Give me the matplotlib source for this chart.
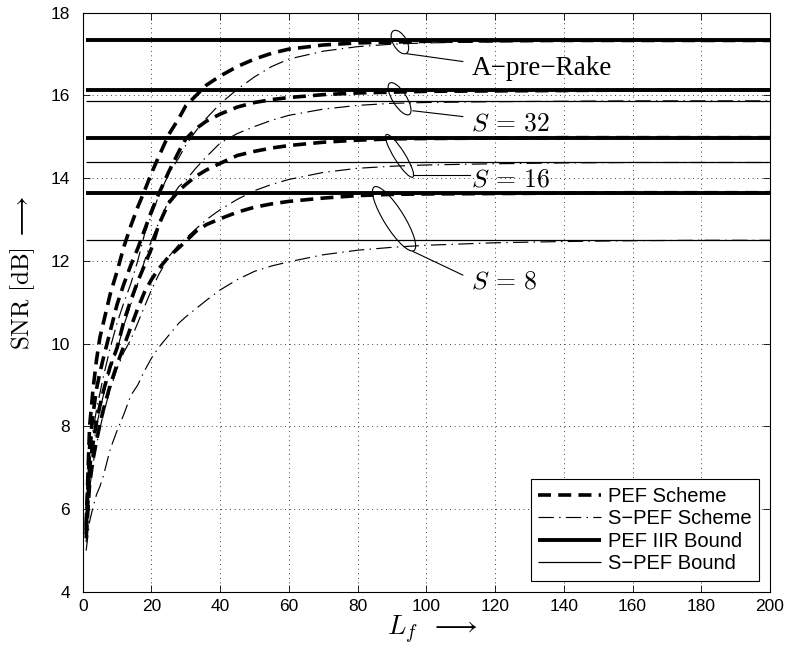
import matplotlib
matplotlib.use('Agg')
import matplotlib.pyplot as plt
from matplotlib.patches import Ellipse
from matplotlib.transforms import ScaledTranslation

# ---------------- data ----------------
Lf = [1, 2, 3, 4, 5, 6, 8, 10, 12, 14, 16, 18, 20, 22, 25, 28, 30, 33, 36, 40,
      45, 50, 55, 60, 70, 80, 90, 100, 120, 140, 160, 180, 200]

# PEF scheme (thick dashed)
pef_apre = [5.6, 8.0, 8.9, 9.6, 10.15, 10.5, 11.2, 11.75, 12.35, 12.85, 13.3, 13.7, 14.12, 14.5,
            15.05, 15.45, 15.75, 16.0, 16.25, 16.47, 16.7, 16.88, 17.02, 17.12, 17.22, 17.27,
            17.29, 17.31, 17.32, 17.33, 17.33, 17.33, 17.33]
pef_s32 = [5.5, 7.5, 8.3, 8.9, 9.3, 9.65, 10.3, 10.95, 11.45, 11.9, 12.3, 12.75, 13.2, 13.6,
           14.15, 14.65, 14.95, 15.2, 15.38, 15.55, 15.72, 15.83, 15.9, 15.95, 16.02, 16.06,
           16.08, 16.1, 16.11, 16.12, 16.13, 16.13, 16.13]
pef_s16 = [5.4, 7.0, 7.6, 8.1, 8.5, 8.85, 9.45, 9.9, 10.55, 11.05, 11.5, 11.9, 12.3, 12.85,
           13.4, 13.7, 13.85, 14.05, 14.2, 14.36, 14.55, 14.65, 14.73, 14.79, 14.87, 14.92,
           14.95, 14.96, 14.97, 14.98, 14.98, 14.98, 14.98]
pef_s8 = [5.3, 6.6, 7.2, 7.65, 8.05, 8.4, 9.0, 9.5, 9.95, 10.4, 10.85, 11.25, 11.55, 11.8,
          12.1, 12.32, 12.48, 12.72, 12.88, 13.02, 13.18, 13.3, 13.38, 13.44, 13.52, 13.58,
          13.61, 13.62, 13.63, 13.64, 13.65, 13.65, 13.65]

# S-PEF scheme (thin dash-dot)
spef_apre = [5.4, 7.2, 7.9, 8.4, 8.8, 9.2, 9.9, 10.5, 11.0, 11.45, 12.0, 12.65, 13.1, 13.55,
             14.1, 14.5, 14.8, 15.15, 15.45, 15.8, 16.15, 16.45, 16.7, 16.88, 17.07, 17.18,
             17.24, 17.27, 17.3, 17.31, 17.32, 17.32, 17.32]
spef_s32 = [5.3, 6.9, 7.5, 8.0, 8.4, 8.75, 9.4, 9.85, 10.45, 10.95, 11.45, 12.0, 12.5, 12.9,
            13.45, 13.8, 13.95, 14.25, 14.52, 14.85, 15.08, 15.25, 15.4, 15.52, 15.67, 15.76,
            15.81, 15.83, 15.85, 15.86, 15.87, 15.87, 15.87]
spef_s16 = [5.2, 6.5, 7.1, 7.55, 7.95, 8.3, 8.9, 9.4, 9.8, 10.1, 10.5, 10.9, 11.3, 11.65,
            12.1, 12.4, 12.55, 12.78, 13.0, 13.24, 13.49, 13.7, 13.85, 13.97, 14.14, 14.24,
            14.29, 14.32, 14.35, 14.37, 14.38, 14.38, 14.38]
spef_s8 = [5.0, 5.7, 6.05, 6.35, 6.55, 6.8, 7.45, 7.9, 8.3, 8.75, 9.0, 9.35, 9.65, 9.9,
           10.2, 10.5, 10.65, 10.85, 11.05, 11.3, 11.55, 11.75, 11.88, 11.98, 12.15, 12.26,
           12.33, 12.38, 12.44, 12.47, 12.49, 12.5, 12.5]

# bounds (A-pre-Rake, S=32, S=16, S=8)
pef_iir_bound = [17.33, 16.13, 14.98, 13.65]
spef_bound = [17.33, 15.87, 14.38, 12.51]

legend_labels = ['PEF Scheme', 'S\u2212PEF Scheme', 'PEF IIR Bound', 'S\u2212PEF Bound']
xticks = [0, 20, 40, 60, 80, 100, 120, 140, 160, 180, 200]
yticks = [4, 6, 8, 10, 12, 14, 16, 18]

# ---------------- figure ----------------
plt.rcParams['font.family'] = ['Liberation Sans', 'DejaVu Sans']
plt.rcParams['mathtext.fontset'] = 'cm'

fig = plt.figure(figsize=(7.9, 6.55), dpi=100)
ax = fig.add_axes([0.1047, 0.0962, 0.8700, 0.8844])

pef_curves = [pef_apre, pef_s32, pef_s16, pef_s8]
spef_curves = [spef_apre, spef_s32, spef_s16, spef_s8]

for i, y in enumerate(pef_curves):
    ax.plot(Lf, y, color='k', lw=2.6, dashes=(3.6, 2.0), dash_capstyle='butt',
            label=legend_labels[0] if i == 0 else None, zorder=3)
for i, y in enumerate(spef_curves):
    ax.plot(Lf, y, color='k', lw=0.85, dashes=(13, 4.5, 1.2, 4.5),
            label=legend_labels[1] if i == 0 else None, zorder=3)
for i, b in enumerate(pef_iir_bound):
    ax.plot([Lf[0], Lf[-1]], [b, b], color='k', lw=2.8, solid_capstyle='butt',
            label=legend_labels[2] if i == 0 else None, zorder=4)
for i, b in enumerate(spef_bound):
    ax.plot([Lf[0], Lf[-1]], [b, b], color='k', lw=0.9, solid_capstyle='butt',
            label=legend_labels[3] if i == 0 else None, zorder=4)

ax.set_xlim(0, 200)
ax.set_ylim(4, 18)
ax.set_xticks(xticks)
ax.set_yticks(yticks)
ax.grid(True, color='k', lw=0.6, linestyle=(0, (1, 4.5)))
ax.tick_params(direction='in', top=True, right=True, length=5, width=0.6,
               labelsize=12.5)
ax.tick_params(axis='x', pad=5)
ax.tick_params(axis='y', pad=9)
for s in ax.spines.values():
    s.set_linewidth(0.8)

ax.set_xlabel(r'$L_f\;\;\longrightarrow$', fontsize=19.5)
ax.xaxis.label.set_va('center')
ax.xaxis.set_label_coords(0.508, -0.066)
ax.set_ylabel(r'$\mathrm{SNR\ [dB]}\;\longrightarrow$', fontsize=18)
ax.yaxis.label.set_va('center')
ax.yaxis.set_label_coords(-0.087, 0.55)

leg = ax.legend(loc='lower right', fontsize=14.5, frameon=True, fancybox=False,
                edgecolor='k', framealpha=1, handlelength=3.1, handletextpad=0.35,
                labelspacing=0.17, borderpad=0.38, borderaxespad=0.55)
leg.get_frame().set_linewidth(0.8)


# ---------------- annotations ----------------
def ell(cx, cy, w_px, h_px, ang):
    tr = fig.dpi_scale_trans + ScaledTranslation(cx, cy, ax.transData)
    e = Ellipse((0, 0), w_px / 100.0, h_px / 100.0, angle=ang, transform=tr,
                fill=False, ec='k', lw=0.8, zorder=5)
    ax.add_patch(e)


ell(92.3, 17.29, 26, 13.5, -60)
ell(92.2, 15.92, 37, 14, -58)
ell(92.2, 14.54, 50, 11, -58)
ell(90.6, 13.02, 75, 20, -58)

ax.plot([94.2, 110.6], [17.01, 16.82], color='k', lw=0.8, zorder=5)
ax.plot([96.1, 110.6], [15.63, 15.49], color='k', lw=0.8, zorder=5)
ax.plot([96.1, 112.6], [14.08, 14.08], color='k', lw=0.8, zorder=5)
ax.plot([96.1, 110.6], [12.23, 11.66], color='k', lw=0.8, zorder=5)

ax.text(113.1, 16.66, 'A\u2212pre\u2212Rake', family=['Liberation Serif', 'DejaVu Serif'],
        fontsize=19.5, va='center', ha='left', zorder=6)
ax.text(113.1, 15.33, r'$S\,=\,32$', fontsize=18.5, va='center', ha='left', zorder=6)
ax.text(113.1, 13.96, r'$S\,=\,16$', fontsize=18.5, va='center', ha='left', zorder=6)
ax.text(113.1, 11.50, r'$S\,=\,8$', fontsize=18.5, va='center', ha='left', zorder=6)

fig.savefig('out.png', dpi=100)
